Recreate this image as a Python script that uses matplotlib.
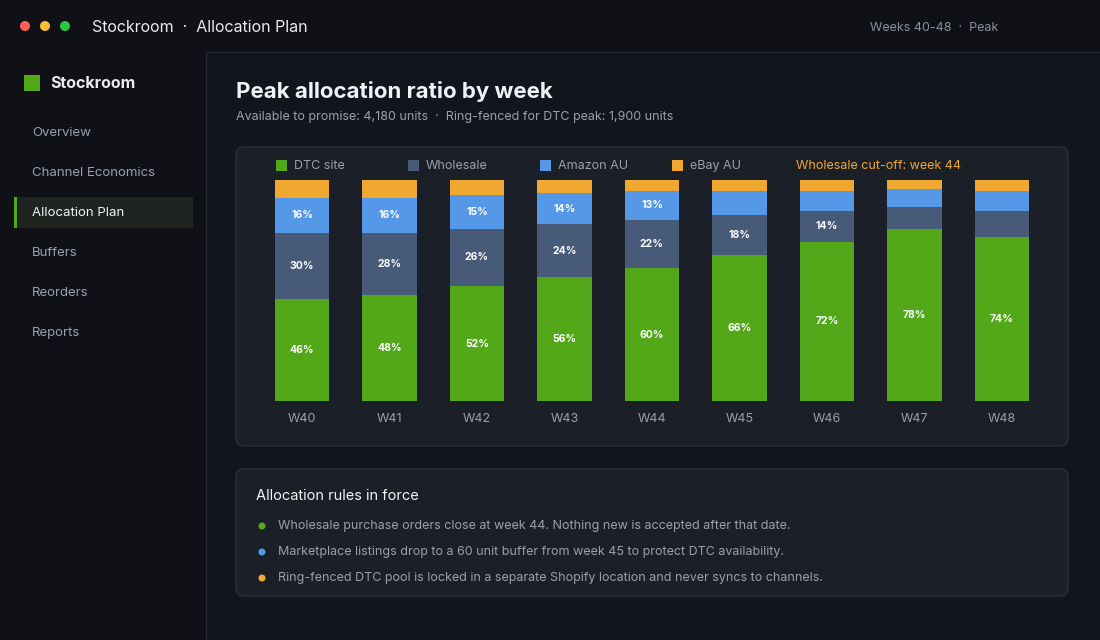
import matplotlib
matplotlib.use("Agg")
import matplotlib.pyplot as plt
from matplotlib.patches import Rectangle, FancyBboxPatch, Circle

weeks = ["W40", "W41", "W42", "W43", "W44", "W45", "W46", "W47", "W48"]
dtc = [46, 48, 52, 56, 60, 66, 72, 78, 74]
wholesale = [30, 28, 26, 24, 22, 18, 14, 10, 12]
amazon = [16, 16, 15, 14, 13, 11, 9, 8, 9]
ebay = [8, 8, 7, 6, 5, 5, 5, 4, 5]
series_names = ["DTC site", "Wholesale", "Amazon AU", "eBay AU"]
colors = ["#52a818", "#475a78", "#5598e8", "#f0a830"]
nav = ["Overview", "Channel Economics", "Allocation Plan", "Buffers", "Reorders", "Reports"]
rules = ["Wholesale purchase orders close at week 44. Nothing new is accepted after that date.",
         "Marketplace listings drop to a 60 unit buffer from week 45 to protect DTC availability.",
         "Ring-fenced DTC pool is locked in a separate Shopify location and never syncs to channels."]
rule_colors = ["#52a818", "#5598e8", "#f0a830"]

plt.rcParams['font.family'] = ['Inter', 'DejaVu Sans']
W, H = 1100, 640
fig = plt.figure(figsize=(11, 6.4), dpi=100)
fig.patch.set_facecolor("#0f1117")
bg = fig.add_axes([0, 0, 1, 1])
bg.set_xlim(0, W); bg.set_ylim(H, 0); bg.axis("off")

def rect(x, y, w, h, fc, ec="none", r=0, lw=1):
    if r:
        bg.add_patch(FancyBboxPatch((x, y), w, h, boxstyle=f"round,pad=0,rounding_size={r}",
                                    fc=fc, ec=ec, lw=lw))
    else:
        bg.add_patch(Rectangle((x, y), w, h, fc=fc, ec=ec, lw=lw))

rect(206, 52, 900, 600, "#12151c", ec="#262a33")
for cx, c in zip([25, 45, 65], ["#ff5f57", "#febc2e", "#28c840"]):
    bg.add_patch(Circle((cx, 26), 5, fc=c, ec="none"))
bg.text(92, 28, "Stockroom  ·  Allocation Plan", color="#e8eaf0", fontsize=11.5, va="center")
bg.text(870, 28, "Weeks 40-48  ·  Peak", color="#8a8f9c", fontsize=9, va="center")

rect(24, 75, 16, 16, "#52a818")
bg.text(50, 84, "Stockroom", color="#e8eaf0", fontsize=11.5, fontweight="bold", va="center")
for i, n in enumerate(nav):
    y = 133 + 40 * i
    if n == "Allocation Plan":
        rect(14, y - 16, 179, 31, "#1f2420")
        rect(14, y - 16, 3, 31, "#52a818")
        bg.text(32, y, n, color="#f0f2f5", fontsize=9.5, va="center")
    else:
        bg.text(32, y, n, color="#9aa0ab", fontsize=9.5, va="center")

bg.text(236, 91, "Peak allocation ratio by week", color="#f0f2f5", fontsize=16, fontweight="bold", va="center")
bg.text(236, 117, "Available to promise: 4,180 units  ·  Ring-fenced for DTC peak: 1,900 units",
        color="#9aa0ab", fontsize=9, va="center")

rect(236, 147, 832, 299, "#1b1f27", ec="#2a2f3a", r=8)
lx = [276, 408, 540, 672]
for x, n, c in zip(lx, series_names, colors):
    rect(x, 160, 11, 11, c)
    bg.text(x + 18, 166, n, color="#9aa0ab", fontsize=9, va="center")
bg.text(796, 166, "Wholesale cut-off: week 44", color="#f0a830", fontsize=9, va="center")

rect(236, 469, 832, 127, "#1b1f27", ec="#2a2f3a", r=8)
bg.text(256, 496, "Allocation rules in force", color="#f0f2f5", fontsize=10.5, va="center")
for i, (t, c) in enumerate(zip(rules, rule_colors)):
    y = 526 + 26 * i
    bg.add_patch(Circle((262, y), 3.5, fc=c, ec="none"))
    bg.text(278, y, t, color="#9aa0ab", fontsize=9, va="center")

ax = fig.add_axes([258.25 / W, (H - 401) / H, 787.5 / W, 221 / H])
ax.set_facecolor("none")
ax.set_xlim(-0.5, 8.5); ax.set_ylim(0, 100)
for s in ax.spines.values():
    s.set_visible(False)
ax.set_yticks([])
x = list(range(len(weeks)))
bottom = [0] * len(weeks)
for vals, c in zip([dtc, wholesale, amazon, ebay], colors):
    ax.bar(x, vals, bottom=bottom, width=0.62, color=c)
    for xi, v, b in zip(x, vals, bottom):
        if v >= 13:
            ax.text(xi, b + v / 2, f"{v}%", ha="center", va="center", color="white",
                    fontsize=7.5, fontweight="bold")
    bottom = [b + v for b, v in zip(bottom, vals)]
ax.set_xticks(x)
ax.set_xticklabels(weeks, color="#9aa0ab", fontsize=9)
ax.tick_params(axis="x", length=0, pad=9)

fig.savefig("out.png", dpi=100, facecolor=fig.get_facecolor())
